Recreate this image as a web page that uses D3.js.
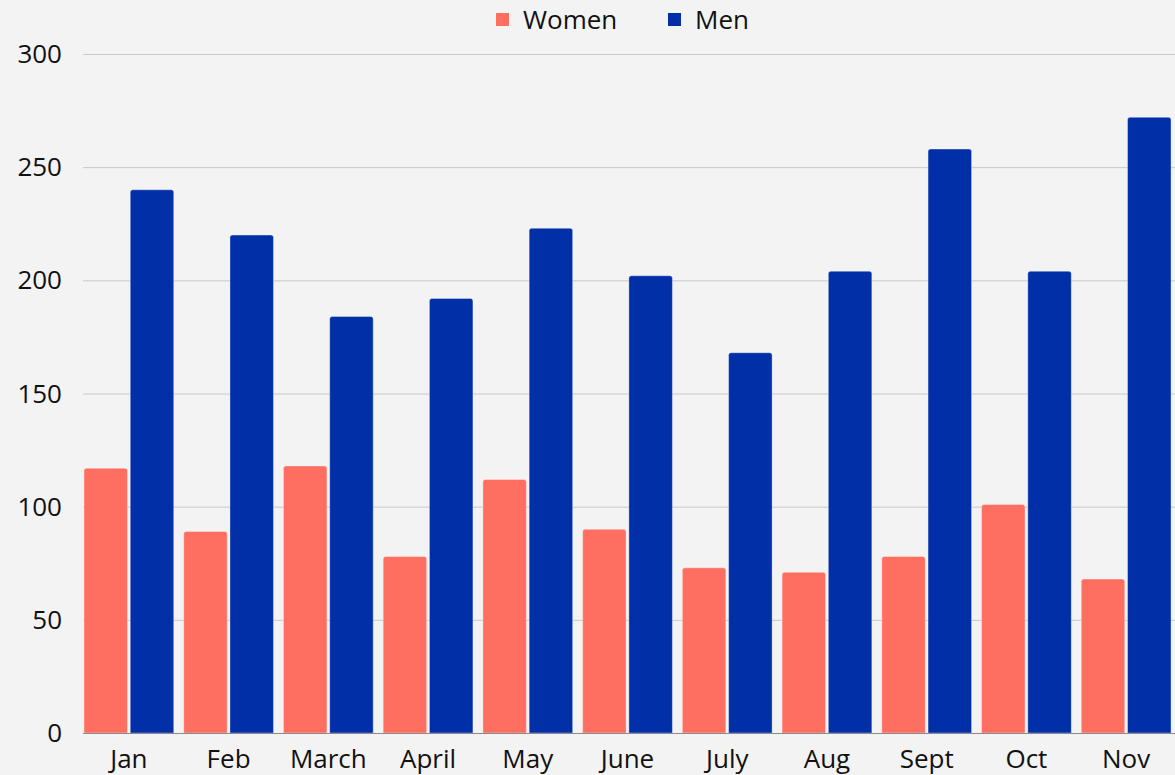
<!DOCTYPE html>
<meta charset="utf-8">
<title>Women / Men by month</title>
<style>
  html, body { margin: 0; padding: 0; background: #f3f3f3; }
  svg { display: block; font-family: 'Open Sans', 'Noto Sans', sans-serif; }
  .grid line { stroke: #c8c8c8; stroke-width: 1; }
  .ytick { font-size: 26px; fill: #111; }
  .xtick { font-size: 26px; fill: #111; }
  .legend text { font-size: 26px; fill: #111; }
</style>
<body>
<svg width="1175" height="775"></svg>
<script src="https://cdn.jsdelivr.net/npm/d3@7"></script>
<script>
// data
var months = ["Jan", "Feb", "March", "April", "May", "June", "July", "Aug", "Sept", "Oct", "Nov"];
var series = ["Women", "Men"];
var women = [117, 89, 118, 78, 112, 90, 73, 71, 78, 101, 68];
var men = [240, 220, 184, 192, 223, 202, 168, 204, 258, 204, 272];
var yTicks = [0, 50, 100, 150, 200, 250, 300];
var colors = { Women: "#ff6f61", Men: "#002fa8" };

var svg = d3.select("svg"),
    width = +svg.attr("width"),
    height = +svg.attr("height");

var plotTop = 54, plotBottom = 733, plotLeft = 83;

var x0 = d3.scaleBand()
    .domain(months)
    .range([79, 1176])
    .paddingInner(0.1)
    .paddingOuter(0.05);

var x1 = d3.scaleBand()
    .domain(series)
    .range([0, x0.bandwidth()])
    .paddingInner(0.06);

var y = d3.scaleLinear()
    .domain([0, 300])
    .range([plotBottom, plotTop]);

// gridlines
svg.append("g")
    .attr("class", "grid")
  .selectAll("line")
    .data(yTicks.filter(function(d) { return d > 0; }))
    .enter().append("line")
    .attr("x1", plotLeft)
    .attr("x2", width)
    .attr("y1", function(d) { return y(d) + 0.5; })
    .attr("y2", function(d) { return y(d) + 0.5; });

// y tick labels
svg.append("g")
  .selectAll("text")
    .data(yTicks)
    .enter().append("text")
    .attr("class", "ytick")
    .attr("x", 62)
    .attr("y", function(d) { return y(d); })
    .attr("dy", "0.35em")
    .attr("text-anchor", "end")
    .text(function(d) { return d; });

var rows = months.map(function(m, i) {
  return { month: m, values: [
    { key: "Women", value: women[i] },
    { key: "Men", value: men[i] }
  ] };
});

function barPath(x, w, yTop, yBase, r) {
  return "M" + x + "," + yBase +
    "V" + (yTop + r) +
    "Q" + x + "," + yTop + " " + (x + r) + "," + yTop +
    "H" + (x + w - r) +
    "Q" + (x + w) + "," + yTop + " " + (x + w) + "," + (yTop + r) +
    "V" + yBase + "Z";
}

svg.append("g")
  .selectAll("g")
    .data(rows)
    .enter().append("g")
    .attr("transform", function(d) { return "translate(" + x0(d.month) + ",0)"; })
  .selectAll("path")
    .data(function(d) { return d.values; })
    .enter().append("path")
    .attr("d", function(d) {
      return barPath(x1(d.key), x1.bandwidth(), y(d.value), y(0), 2.5);
    })
    .attr("fill", function(d) { return colors[d.key]; })
    .attr("stroke", "#ffffff")
    .attr("stroke-opacity", 0.35)
    .attr("stroke-width", 1);

// baseline
svg.append("line")
    .attr("x1", plotLeft)
    .attr("x2", width)
    .attr("y1", y(0) + 0.5)
    .attr("y2", y(0) + 0.5)
    .attr("stroke", "#8a8a8a")
    .attr("stroke-width", 1);

// x labels
svg.append("g")
  .selectAll("text")
    .data(months)
    .enter().append("text")
    .attr("class", "xtick")
    .attr("x", function(d) { return x0(d) + x0.bandwidth() / 2; })
    .attr("y", 768)
    .attr("text-anchor", "middle")
    .text(function(d) { return d; });

// legend
var legend = svg.append("g").attr("class", "legend");
var legendX = [496, 668];
series.forEach(function(s, i) {
  legend.append("rect")
      .attr("x", legendX[i])
      .attr("y", 13)
      .attr("width", 13)
      .attr("height", 13)
      .attr("fill", colors[s]);
  legend.append("text")
      .attr("x", legendX[i] + 27)
      .attr("y", 20)
      .attr("dy", "0.35em")
      .text(s);
});
</script>
</body>
